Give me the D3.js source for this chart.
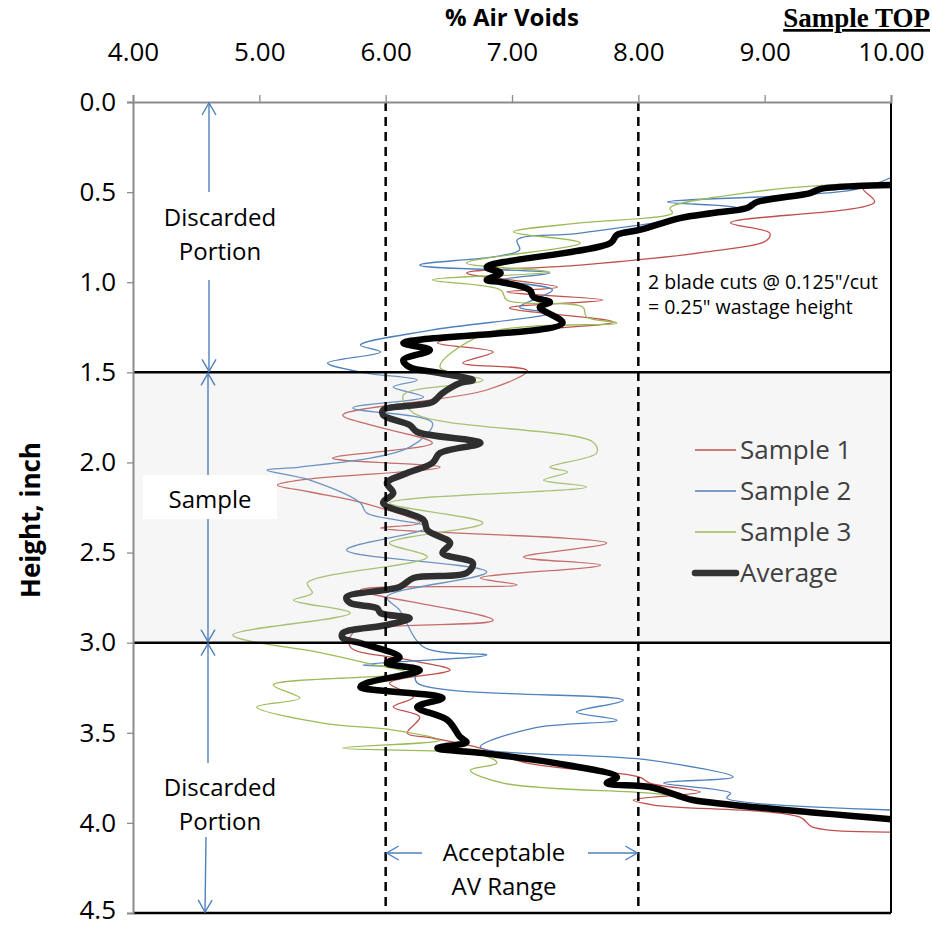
<!DOCTYPE html>
<html>
<head>
<meta charset="utf-8">
<script src="https://cdn.jsdelivr.net/npm/d3@7"></script>
<style>
  body { margin: 0; background: #fff; }
  text { font-family: "Open Sans", sans-serif; }
</style>
</head>
<body>
<svg id="chart" width="932" height="925"></svg>
<script>
// tick values
var xTicks = [4, 5, 6, 7, 8, 9, 10];
var yTicks = [0, 0.5, 1, 1.5, 2, 2.5, 3, 3.5, 4, 4.5];

// each point is [height (inch), % air voids]
var sample1 = [[0.45,10.03],[0.48,9.78],[0.555,9.87],[0.67,8.73],[0.727,9.04],[0.766,9.02],[0.832,8.54],[0.905,7.54],
  [0.949,6.64],[1.027,7.36],[1.054,6.96],[1.099,7.72],[1.143,6.98],[1.221,7.80],[1.265,7.17],[1.337,6.41],[1.387,6.85],
  [1.448,6.61],[1.49,7.12],[1.598,6.80],[1.737,5.66],[1.792,5.88],[1.892,6.37],[1.976,5.58],[2.026,6.43],[2.098,5.32],
  [2.125,5.14],[2.164,5.40],[2.225,5.82],[2.336,6.27],[2.364,5.96],[2.447,7.75],[2.525,7.09],[2.57,7.70],[2.641,6.75],
  [2.68,7.04],[2.708,5.80],[2.875,6.85],[2.947,5.74],[3.024,5.72],[3.097,6.19],[3.152,6.51],[3.224,6.03],[3.302,6.22],
  [3.357,6.06],[3.413,6.27],[3.502,6.17],[3.529,6.37],[3.585,6.75],[3.668,7.12],[3.746,8.01],[3.779,8.09],[3.829,8.49],
  [3.873,7.96],[3.901,8.12],[3.968,9.28],[4.023,9.38],[4.051,10.02]];

var sample2 = [[0.41,10.03],[0.488,9.70],[0.555,8.23],[0.588,8.78],[0.727,7.54],[0.766,7.04],[0.821,7.06],[0.905,6.27],
  [0.949,7.30],[0.988,6.91],[1.043,7.32],[1.138,7.06],[1.171,7.30],[1.265,6.37],[1.349,5.80],[1.387,5.96],[1.448,5.54],
  [1.504,5.85],[1.543,6.25],[1.582,6.06],[1.637,6.30],[1.698,5.74],[1.781,6.37],[1.915,6.19],[2.026,5.32],[2.042,5.06],
  [2.098,5.40],[2.225,5.80],[2.281,5.85],[2.359,6.33],[2.486,5.69],[2.608,6.80],[2.747,6.01],[2.819,6.11],[3.024,6.30],
  [3.069,6.80],[3.124,5.82],[3.152,6.22],[3.224,6.25],[3.319,7.88],[3.385,7.51],[3.43,7.83],[3.474,7.17],[3.579,6.75],
  [3.652,8.09],[3.746,8.75],[3.779,8.20],[3.835,8.73],[3.862,8.70],[3.929,10.02]];

var sample3 = [[0.45,10.03],[0.461,9.49],[0.499,8.91],[0.588,8.25],[0.616,8.27],[0.671,7.54],[0.721,7.01],[0.782,7.54],
  [0.893,6.64],[0.943,7.30],[0.988,6.37],[1.043,6.91],[1.099,6.96],[1.138,7.56],[1.193,7.59],[1.226,7.83],[1.282,6.80],
  [1.471,6.43],[1.543,6.77],[1.626,6.14],[1.726,6.22],[1.887,7.64],[1.948,7.67],[2.026,7.30],[2.053,7.44],[2.098,7.25],
  [2.136,7.59],[2.225,6.03],[2.336,6.77],[2.447,6.03],[2.525,6.33],[2.669,5.38],[2.725,5.42],[2.764,5.27],[2.836,5.72],
  [2.958,4.79],[3.058,5.50],[3.113,5.85],[3.169,6.17],[3.235,5.11],[3.307,5.32],[3.357,4.98],[3.446,5.50],[3.485,6.06],
  [3.541,6.43],[3.585,5.66],[3.624,6.77],[3.668,6.88],[3.707,6.67],[3.779,6.93],[3.835,8.09],[3.857,8.35],[3.94,9.15],
  [3.984,10.02]];

var average = [[0.46,10.0],[0.466,9.73],[0.483,9.44],[0.505,9.36],[0.555,8.94],[0.588,8.86],[0.616,8.59],[0.644,8.33],
  [0.71,8.01],[0.738,7.83],[0.782,7.78],[0.916,6.80],[0.949,6.91],[0.988,6.80],[0.999,6.91],[1.043,7.14],[1.082,7.17],
  [1.11,7.30],[1.138,7.22],[1.226,7.40],[1.337,6.14],[1.376,6.35],[1.432,6.14],[1.471,6.19],[1.504,6.43],[1.543,6.69],
  [1.559,6.59],[1.615,6.45],[1.665,6.37],[1.709,5.98],[1.737,5.98],[1.792,6.19],[1.831,6.25],[1.892,6.75],[1.948,6.43],
  [2.003,6.37],[2.059,6.17],[2.114,6.01],[2.17,6.06],[2.225,5.98],[2.32,6.30],[2.375,6.33],[2.447,6.51],[2.503,6.45],
  [2.558,6.69],[2.614,6.64],[2.641,6.22],[2.691,6.11],[2.747,5.69],[2.78,5.72],[2.808,5.93],[2.836,5.96],[2.864,6.19],
  [2.902,6.01],[2.947,5.66],[2.974,5.66],[3.002,5.80],[3.08,6.11],[3.113,6.01],[3.152,6.27],[3.224,5.85],[3.246,5.80],
  [3.307,6.45],[3.357,6.25],[3.43,6.49],[3.524,6.59],[3.552,6.64],[3.585,6.41],[3.613,6.77],[3.663,7.30],[3.746,7.83],
  [3.779,7.75],[3.801,8.09],[3.857,8.35],[3.873,8.43],[3.98,10.0]];

var seriesNames = ["Sample 1", "Sample 2", "Sample 3", "Average"];
var seriesData = [sample1, sample2, sample3, average];
var seriesColors = ["#c0504d", "#4f81bd", "#9bbb59", "#000"];
var seriesWidths = [1.3, 1.3, 1.3, 6.5];

var svg = d3.select("#chart");
var pLeft = 133, pRight = 891, pTop = 102, pBottom = 913;

var x = d3.scaleLinear().domain([4, 10]).range([pLeft, pRight]);
var y = d3.scaleLinear().domain([0, 4.5]).range([pTop, pBottom]);

var defs = svg.append("defs");
defs.append("clipPath").attr("id", "plotClip")
  .append("rect").attr("x", pLeft).attr("y", pTop).attr("width", pRight - pLeft).attr("height", pBottom - pTop);

var arrowColor = "#4f81bd";
defs.append("marker")
  .attr("id", "arr").attr("markerUnits", "userSpaceOnUse")
  .attr("viewBox", "-14 -9 16 18").attr("markerWidth", 16).attr("markerHeight", 18)
  .attr("refX", 0).attr("refY", 0).attr("orient", "auto-start-reverse")
  .append("path").attr("d", "M-12,-7L0,0L-12,7")
  .attr("fill", "none").attr("stroke", arrowColor).attr("stroke-width", 1.4);

// series lines
var line = d3.line()
  .x(function(d) { return x(d[1]); })
  .y(function(d) { return y(d[0]); })
  .curve(d3.curveCatmullRom.alpha(0.5));

var lines = svg.append("g").attr("clip-path", "url(#plotClip)");
seriesData.forEach(function(s, i) {
  lines.append("path").datum(s)
    .attr("d", line)
    .attr("fill", "none")
    .attr("stroke", seriesColors[i])
    .attr("stroke-width", seriesWidths[i])
    .attr("stroke-linejoin", "round");
});

// sample band (drawn over the lines, semi transparent like the original)
svg.append("rect")
  .attr("x", pLeft).attr("y", y(1.5))
  .attr("width", pRight - pLeft).attr("height", y(3) - y(1.5))
  .attr("fill", "rgb(212,212,212)").attr("fill-opacity", 0.22);

// acceptable range
[6, 8].forEach(function(v) {
  svg.append("line")
    .attr("x1", x(v)).attr("x2", x(v)).attr("y1", pTop).attr("y2", pBottom)
    .attr("stroke", "#000").attr("stroke-width", 2.5).attr("stroke-dasharray", "9,6");
});

// cut lines
[1.5, 3].forEach(function(h) {
  svg.append("line")
    .attr("x1", pLeft).attr("x2", pRight).attr("y1", y(h)).attr("y2", y(h))
    .attr("stroke", "#000").attr("stroke-width", 2.5);
});

// frame right/bottom
svg.append("line").attr("x1", pRight).attr("x2", pRight).attr("y1", pTop).attr("y2", pBottom)
  .attr("stroke", "#000").attr("stroke-width", 2);
svg.append("line").attr("x1", pLeft).attr("x2", pRight).attr("y1", pBottom).attr("y2", pBottom)
  .attr("stroke", "#000").attr("stroke-width", 2.5);

// axes
var xAxis = svg.append("g").attr("transform", "translate(0," + pTop + ")")
  .call(d3.axisTop(x).tickValues(xTicks).tickFormat(d3.format(".2f")).tickSize(7).tickPadding(34));
var yAxis = svg.append("g").attr("transform", "translate(" + pLeft + ",0)")
  .call(d3.axisLeft(y).tickValues(yTicks).tickFormat(d3.format(".1f")).tickSize(6).tickPadding(11));
[xAxis, yAxis].forEach(function(a) {
  a.select(".domain").attr("stroke", "#8c8c8c").attr("stroke-width", 2);
  a.selectAll(".tick line").attr("stroke", "#8c8c8c").attr("stroke-width", 1.3);
  a.selectAll(".tick text").attr("font-family", "Open Sans").attr("font-size", 26).attr("fill", "#000");
});
// last label sits on the page edge; lift it a little so it stays whole
yAxis.selectAll(".tick text").filter(function(d) { return d === 4.5; }).attr("dy", "0.2em");

// titles
svg.append("text").attr("x", 512).attr("y", 26).attr("text-anchor", "middle")
  .attr("font-size", 24).attr("font-weight", "bold").text("% Air Voids");
svg.append("text").attr("x", 930).attr("y", 27).attr("text-anchor", "end")
  .style("font-family", "'Liberation Serif', serif").attr("font-size", 27).attr("font-weight", "bold")
  .attr("text-decoration", "underline").text("Sample TOP");
svg.append("text").attr("transform", "translate(40,520) rotate(-90)").attr("text-anchor", "middle")
  .attr("font-size", 26).attr("font-weight", "bold").text("Height, inch");

// region annotations
function vArrow(x0, y0, x1, y1, startHead, endHead) {
  var l = svg.append("line").attr("x1", x0).attr("y1", y0).attr("x2", x1).attr("y2", y1)
    .attr("stroke", arrowColor).attr("stroke-width", 1.4);
  if (startHead) l.attr("marker-start", "url(#arr)");
  if (endHead) l.attr("marker-end", "url(#arr)");
}
function label(cx, cy, lines, size) {
  var t = svg.append("text").attr("x", cx).attr("y", cy).attr("text-anchor", "middle")
    .attr("font-size", size).attr("fill", "#000");
  lines.forEach(function(s, i) {
    t.append("tspan").attr("x", cx).attr("dy", i === 0 ? "0.35em" : "1.42em").text(s);
  });
}

vArrow(209, y(0) + 1, 209, 192, true, false);
vArrow(209, 280, 209, y(1.5) - 1, false, true);
label(220, 218, ["Discarded", "Portion"], 24);

vArrow(208, y(1.5) + 1, 208, y(3) - 1, true, true);
svg.append("rect").attr("x", 143).attr("y", 475).attr("width", 134).attr("height", 44).attr("fill", "#fff");
label(210, 500, ["Sample"], 24);

vArrow(208, y(3) + 1, 208, 763, true, false);
vArrow(206, 837, 205, pBottom - 1, false, true);
label(220, 788, ["Discarded", "Portion"], 24);

vArrow(422, 853, x(6) + 1, 853, false, true);
vArrow(588, 853, x(8) - 1, 853, false, true);
label(504, 853, ["Acceptable", "AV Range"], 24);

svg.append("text").attr("x", 648).attr("y", 282).attr("dy", "0.35em")
  .attr("font-size", 19.5).text("2 blade cuts @ 0.125\"/cut");
svg.append("text").attr("x", 648).attr("y", 307).attr("dy", "0.35em")
  .attr("font-size", 19.5).text("= 0.25\" wastage height");

// legend
var legend = svg.append("g");
seriesNames.forEach(function(n, i) {
  var ly = 450 + i * 41;
  legend.append("line").attr("x1", 695).attr("x2", 736).attr("y1", ly).attr("y2", ly)
    .attr("stroke", i === 3 ? "#333" : seriesColors[i]).attr("stroke-width", seriesWidths[i])
    .attr("stroke-linecap", i === 3 ? "round" : "butt");
  legend.append("text").attr("x", 740).attr("y", ly).attr("dy", "0.35em")
    .attr("font-size", 26).attr("fill", "#404040").text(n);
});
</script>
</body>
</html>
